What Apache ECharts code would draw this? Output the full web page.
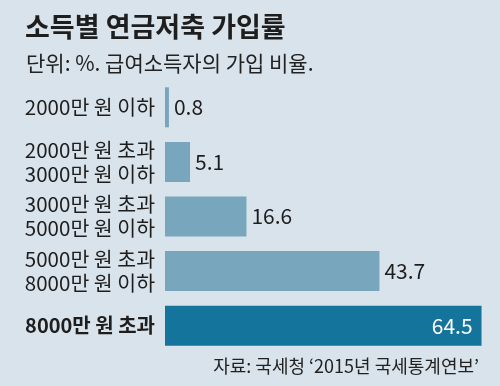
<!DOCTYPE html>
<html><head><meta charset="utf-8">
<script src="https://cdn.jsdelivr.net/npm/echarts@6/dist/echarts.min.js"></script>
<style>html,body{margin:0;padding:0;background:#d9e3eb;}#c{width:500px;height:386px;}</style>
</head><body><div id="c"></div>
<script>
const categories = ['2000만 원 이하', '2000만 원 초과\n3000만 원 이하', '3000만 원 초과\n5000만 원 이하', '5000만 원 초과\n8000만 원 이하', '8000만 원 초과'];
const values = [0.8, 5.1, 16.6, 43.7, 64.5];
const highlightIndex = 4;
const titleText = '소득별 연금저축 가입률';
const subtitleText = '단위: %. 급여소득자의 가입 비율.';
const sourceText = '자료: 국세청 ‘2015년 국세통계연보’';

const FONT = '"Noto Sans CJK KR", "Noto Sans", sans-serif';
const chart = echarts.init(document.getElementById('c'));
chart.setOption({
  backgroundColor: '#d9e3eb',
  textStyle: { fontFamily: FONT },
  title: [
    { text: titleText, left: 20, top: 8, textStyle: { fontFamily: FONT, fontSize: 27, fontWeight: 'bold', color: '#1e1e1e' } },
    { text: subtitleText, left: 21, top: 48, textStyle: { fontFamily: FONT, fontSize: 21, fontWeight: 'normal', color: '#222' } },
    { text: sourceText, right: 16, top: 352, textStyle: { fontFamily: FONT, fontSize: 18, fontWeight: 'normal', color: '#222' } }
  ],
  grid: { left: 165, right: 16, top: 80, bottom: 33, containLabel: false },
  xAxis: { type: 'value', min: 0, max: 65, show: false },
  yAxis: {
    type: 'category', data: categories, inverse: true,
    axisLine: { show: false }, axisTick: { show: false },
    axisLabel: {
      margin: 10, fontSize: 20.5, lineHeight: 24, color: '#1e1e1e', fontFamily: FONT,
      formatter: (v, i) => i === highlightIndex ? '{b|' + v + '}' : v,
      rich: { b: { fontSize: 20, fontWeight: 'bold', color: '#1e1e1e', fontFamily: FONT } }
    }
  },
  series: [{
    type: 'bar', barWidth: 40,
    data: values.map((v, i) => ({
      value: v,
      itemStyle: { color: i === highlightIndex ? '#15749b' : '#78a7bd' },
      label: i === highlightIndex
        ? { show: true, position: 'insideRight', color: '#fff', distance: 9 }
        : { show: true, position: 'right', color: '#1e1e1e', distance: 5 }
    })),
    label: { fontSize: 21, fontFamily: FONT, formatter: p => p.value.toFixed(1) }
  }]
});
</script></body></html>
